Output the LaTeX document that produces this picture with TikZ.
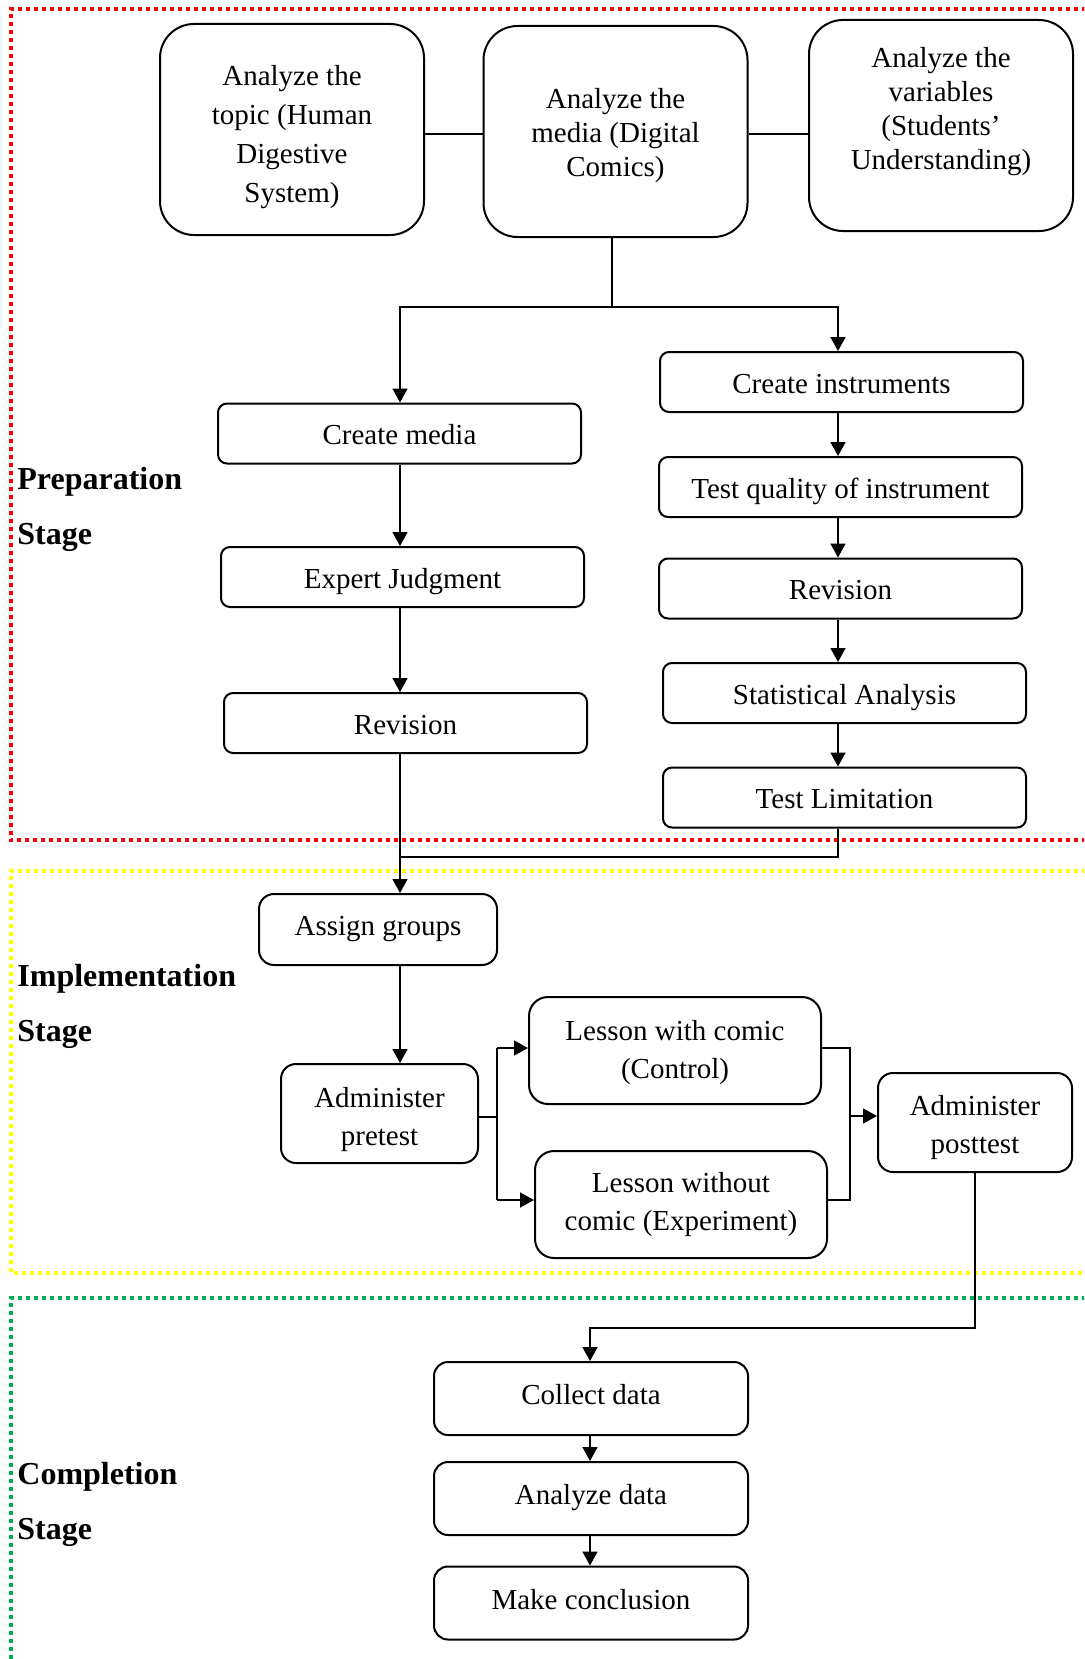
\documentclass[tikz,border=0pt]{standalone}
\usepackage{fontspec}
\setmainfont{Liberation Serif}
\usetikzlibrary{arrows.meta}
\definecolor{dotred}{RGB}{255,0,0}
\definecolor{dotyel}{RGB}{255,255,0}
\definecolor{dotgrn}{RGB}{0,176,80}
\begin{document}
\begin{tikzpicture}[x=0.5pt,y=-0.5pt,
  box/.style={draw, line width=1pt, rounded corners=4.5pt, inner sep=0pt, align=center,
    font=\fontsize{14.5pt}{19pt}\selectfont},
  txt/.style={inner sep=0pt, align=center},
  bigbox/.style={box, rounded corners=17pt, minimum width=132pt, minimum height=105.5pt},
  wide/.style={box, minimum width=181.5pt, minimum height=30pt, text height=12pt, text depth=1pt},
  midbox/.style={box, rounded corners=7.5pt},
  lessbox/.style={box, rounded corners=9.5pt, minimum width=146pt, minimum height=53.5pt},
  compbox/.style={box, rounded corners=7pt, minimum width=157pt, minimum height=36.5pt, text height=10pt, text depth=4pt},
  ln/.style={line width=0.8pt},
  arr/.style={line width=0.8pt, -{Triangle[length=7pt,width=7.5pt]}},
  frame/.style={line width=2pt, dash pattern=on 2pt off 2pt},
  stagelbl/.style={anchor=west, inner sep=0pt, font=\fontsize{16pt}{19pt}\selectfont\bfseries}]
\clip (0,0) rectangle (1084,1659);
\fill[white] (0,0) rectangle (1084,1659);

% stage frames
\draw[frame, dotred] (1110,9.5) -- (11,9.5) -- (11,840) -- (1110,840);
\draw[frame, dotyel] (1110,871) -- (11,871) -- (11,1273) -- (1110,1273);
\draw[frame, dotgrn] (1110,1298) -- (10.5,1298) -- (10.5,1700);

% stage labels
\node[stagelbl] (prepA) at (17,482) {Preparation};
\node[stagelbl] (prepB) at (17,537) {Stage};
\node[stagelbl] (implA) at (17,979) {Implementation};
\node[stagelbl] (implB) at (17,1034) {Stage};
\node[stagelbl] (compA) at (17,1477) {Completion};
\node[stagelbl] (compB) at (17,1532) {Stage};

% analysis boxes
\node[bigbox] (topic) at (292,129.5) {};
\node[txt, font=\fontsize{14.5pt}{19.5pt}\selectfont] (topicT) at (292,137)
  {Analyze the\\topic (Human\\Digestive\\System)};
\node[bigbox] (media) at (615.5,131.5) {};
\node[txt, font=\fontsize{14.5pt}{16.8pt}\selectfont] (mediaT) at (615.5,135.5)
  {Analyze the\\media (Digital\\Comics)};
\node[bigbox] (vars) at (941,125.5) {};
\node[txt, font=\fontsize{14.5pt}{17pt}\selectfont] (varsT) at (941,112)
  {Analyze the\\variables\\(Students’\\Understanding)};

% preparation columns
\node[wide] (cm) at (399.5,433.5) {Create media};
\node[wide] (ex) at (402.5,577) {Expert Judgment};
\node[wide] (rl) at (405.5,723) {Revision};
\node[wide] (ci) at (841.5,382) {Create instruments};
\node[wide] (tq) at (840.5,487) {Test quality of instrument};
\node[wide] (rr) at (840.5,588.5) {Revision};
\node[wide] (st) at (844.5,693) {Statistical Analysis};
\node[wide] (tl) at (844.5,797.5) {Test Limitation};

% implementation
\node[midbox, minimum width=119pt, minimum height=35.5pt] (ag) at (378,929.5) {Assign groups};
\node[midbox, minimum width=98.5pt, minimum height=49.5pt] (pre) at (379.5,1113.5) {};
\node[txt, font=\fontsize{14.5pt}{19pt}\selectfont] (preT) at (379.5,1120) {Administer\\pretest};
\node[lessbox] (lw) at (675,1050.5) {};
\node[txt, font=\fontsize{14.5pt}{19pt}\selectfont] (lwT) at (675,1052.5) {Lesson with comic\\(Control)};
\node[lessbox] (lwo) at (681,1204.5) {};
\node[txt, font=\fontsize{14.5pt}{19pt}\selectfont] (lwoT) at (681,1205) {Lesson without\\comic (Experiment)};
\node[midbox, minimum width=97pt, minimum height=49.5pt] (post) at (975,1122.5) {};
\node[txt, font=\fontsize{14.5pt}{19pt}\selectfont] (postT) at (975,1128) {Administer\\posttest};

% completion
\node[compbox] (cd) at (591,1398.5) {Collect data};
\node[compbox] (ad) at (591,1498.5) {Analyze data};
\node[compbox] (mk) at (591,1603) {Make conclusion};

% helper coordinates
\coordinate (colL) at (400,0);
\coordinate (colR) at (838,0);
\coordinate (yl) at (0,134);
\coordinate (mx) at (612,307);
\coordinate (jn) at (400,857);
\coordinate (sp) at (497,1117);
\coordinate (sa) at (497,1048);
\coordinate (sb) at (497,1200);
\coordinate (ma) at (850,1048);
\coordinate (mb) at (850,1200);
\coordinate (mc) at (850,1116);
\coordinate (cy) at (590,1328);

% connectors - top
\draw[ln] (topic.east |- yl) -- (media.west |- yl);
\draw[ln] (media.east |- yl) -- (vars.west |- yl);
\draw[ln] (media.south -| mx) -- (mx);
\draw[arr] (mx) -| (cm.north -| colL);
\draw[arr] (mx) -| (ci.north -| colR);

% left column
\draw[arr] (cm.south -| colL) -- (ex.north -| colL);
\draw[arr] (ex.south -| colL) -- (rl.north -| colL);
\draw[arr] (rl.south -| colL) -- (ag.north -| colL);

% right column
\draw[arr] (ci.south -| colR) -- (tq.north -| colR);
\draw[arr] (tq.south -| colR) -- (rr.north -| colR);
\draw[arr] (rr.south -| colR) -- (st.north -| colR);
\draw[arr] (st.south -| colR) -- (tl.north -| colR);
\draw[ln] (tl.south -| colR) |- (jn);

% implementation
\draw[arr] (ag.south -| colL) -- (pre.north -| colL);
\draw[ln] (pre.east |- sp) -- (sp);
\draw[ln] (sa) -- (sb);
\draw[arr] (sa) -- (lw.west |- sa);
\draw[arr] (sb) -- (lwo.west |- sb);
\draw[ln] (lw.east |- ma) -| (mb) -- (lwo.east |- mb);
\draw[arr] (mc) -- (post.west |- mc);
\draw[arr] (post.south) |- (cy) -- (cd.north -| cy);

% completion
\draw[arr] (cd.south -| cy) -- (ad.north -| cy);
\draw[arr] (ad.south -| cy) -- (mk.north -| cy);
\end{tikzpicture}
\end{document}
